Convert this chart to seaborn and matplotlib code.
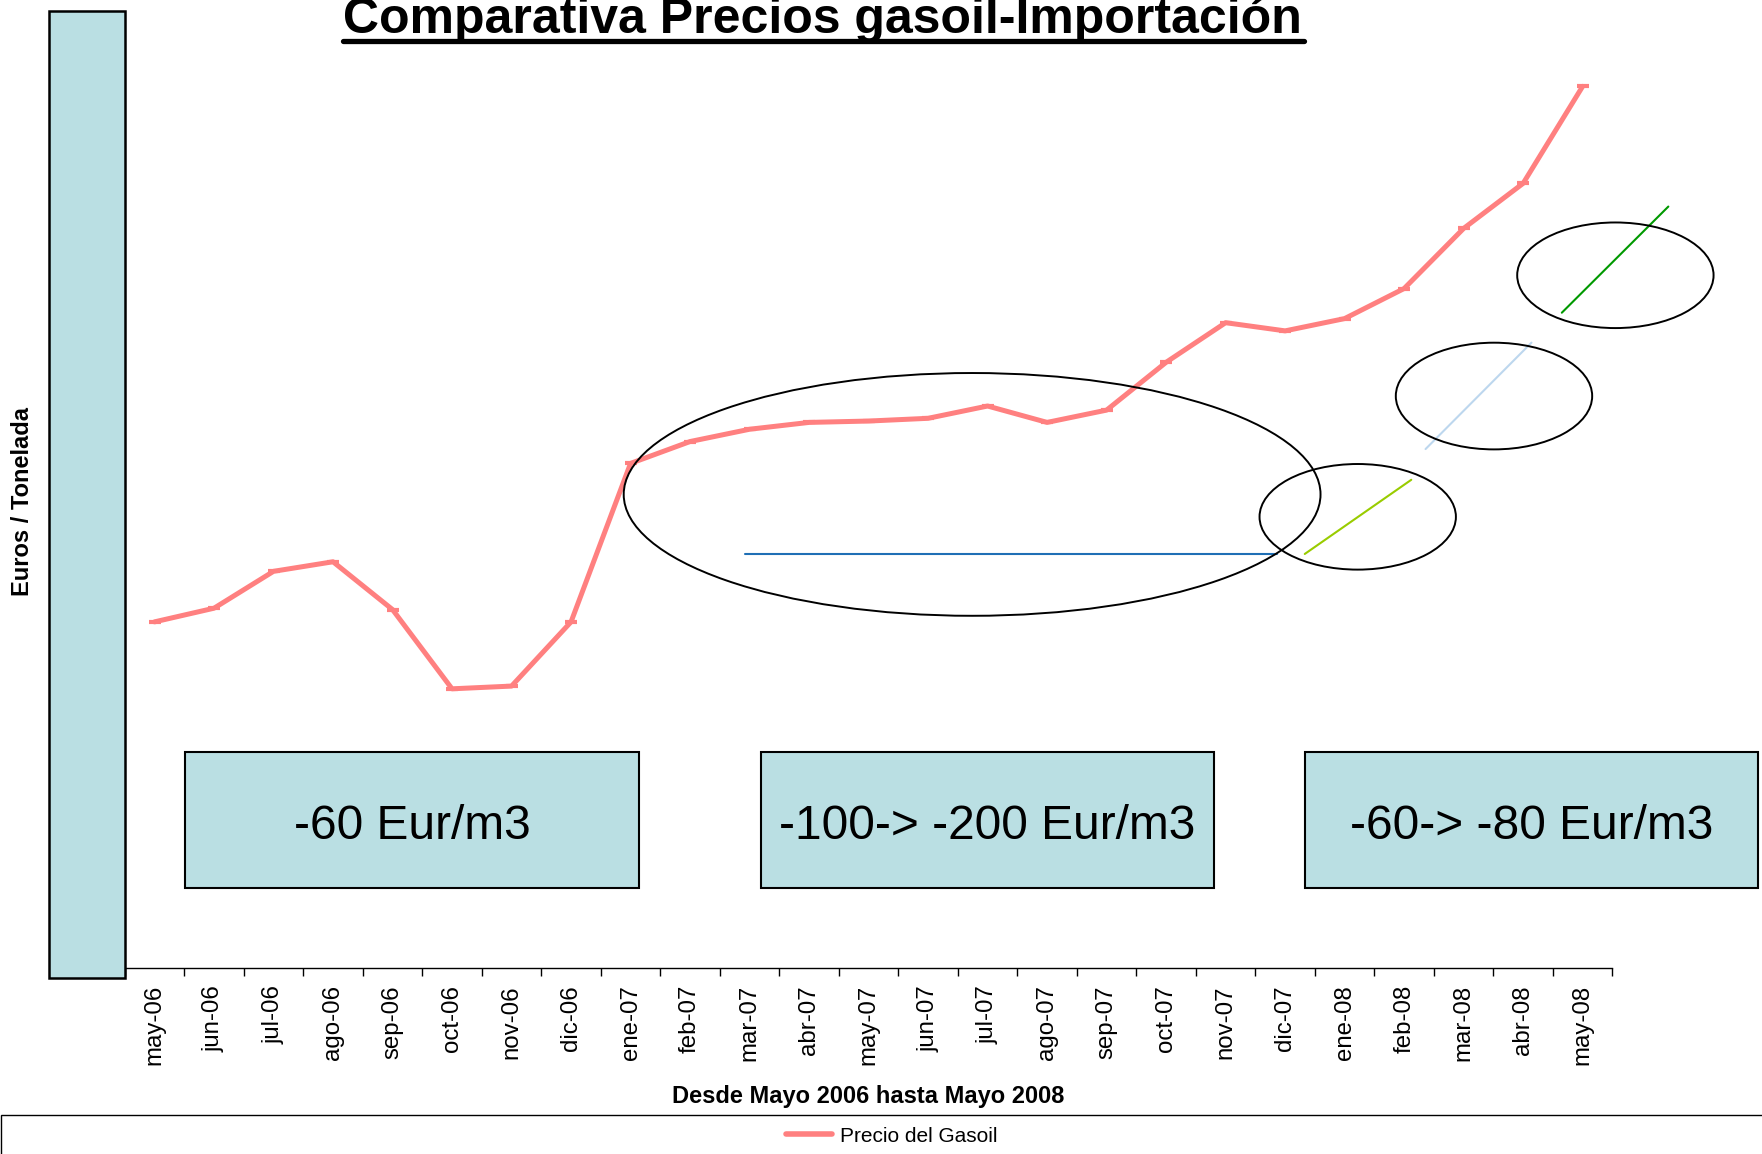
import matplotlib.pyplot as plt
import matplotlib.patches as mpatches
from matplotlib.lines import Line2D
import pandas as pd
import seaborn as sns

meses = ['may-06', 'jun-06', 'jul-06', 'ago-06', 'sep-06', 'oct-06', 'nov-06',
         'dic-06', 'ene-07', 'feb-07', 'mar-07', 'abr-07', 'may-07', 'jun-07',
         'jul-07', 'ago-07', 'sep-07', 'oct-07', 'nov-07', 'dic-07', 'ene-08',
         'feb-08', 'mar-08', 'abr-08', 'may-08']
precio = [453, 463, 490, 497, 462, 404, 406, 453, 569, 585, 594, 599, 600,
          602, 611, 599, 608, 643, 672, 666, 675, 697, 741, 774, 845]
cajas = ['-60 Eur/m3', '-100-> -200 Eur/m3', '-60-> -80 Eur/m3']

titulo = 'Comparativa Precios gasoil-Importación'
serie = 'Precio del Gasoil'

df = pd.DataFrame({'Mes': meses, 'Precio': precio})

sns.set_style('white')
plt.rcParams['font.family'] = ['Liberation Sans', 'DejaVu Sans']
plt.rcParams['text.color'] = 'black'
plt.rcParams['axes.labelcolor'] = 'black'
plt.rcParams['xtick.color'] = 'black'

teal = '#badfe3'
rosa = '#ff8080'

fig = plt.figure(figsize=(17.62, 11.54), dpi=100)
ax = fig.add_axes([0.0708, 0.1616, 0.8443, 0.8287])

sns.lineplot(data=df, x='Mes', y='Precio', ax=ax, color=rosa, lw=3.6,
             marker='_', ms=9, mew=3, mec=rosa, sort=False, legend=False)

ax.set_xlim(-0.5, 24.5)
ax.set_ylim(200, 900)
ax.set_yticks([])
ax.set_xlabel('')
ax.set_ylabel('')
for s in ['top', 'right', 'left']:
    ax.spines[s].set_visible(False)
ax.spines['bottom'].set_color('black')
ax.spines['bottom'].set_linewidth(1)

ax.set_xticks(range(len(meses)))
ax.set_xticklabels(meses)
ax.set_xticks([i - 0.5 for i in range(len(meses) + 1)], minor=True)
ax.tick_params(axis='x', which='major', length=0, pad=12.6, labelsize=17.3,
               labelrotation=90, labelcolor='black')
ax.tick_params(axis='x', which='minor', bottom=True, length=5.8, width=1,
               direction='out', color='black')

# elipses de comentario
elipses = [((13.74, 546.3), 11.71, 177.7),
           ((20.22, 529.9), 3.30, 77.3),
           ((22.51, 618.3), 3.30, 78.1),
           ((24.55, 706.7), 3.30, 77.3)]
for c, w, h in elipses:
    ax.add_patch(mpatches.Ellipse(c, w, h, fill=False, ec='black', lw=1.4,
                                  clip_on=False, zorder=4))

# rectas de tendencia
ax.plot([9.92, 18.87], [502.7, 502.7], color='#1f6fb5', lw=1.5, clip_on=False)
ax.plot([19.33, 21.12], [502.7, 557.0], color='#99cc00', lw=1.5, clip_on=False)
ax.plot([21.36, 23.14], [579.5, 657.4], color='#bdd7ee', lw=1.5, clip_on=False)
ax.plot([23.65, 25.44], [679.3, 757.0], color='#009900', lw=1.5, clip_on=False)

# cajas con el diferencial
xs = [(0.519, 8.15), (10.19, 17.80), (19.33, 26.95)]
for (x0, x1), t in zip(xs, cajas):
    ax.add_patch(mpatches.Rectangle((x0, 258.4), x1 - x0, 99.5, fc=teal,
                                    ec='black', lw=1.5, clip_on=False, zorder=5))
    ax.text((x0 + x1) / 2, 303.5, t, ha='center', va='center', fontsize=34.5,
            color='black', zorder=6, clip_on=False)

# barra a la izquierda
fig.patches.append(mpatches.Rectangle((0.028, 0.1529), 0.0427, 0.8374,
                                      transform=fig.transFigure, fc=teal,
                                      ec='black', lw=1.8))

# titulo subrayado
fig.text(0.467, 0.971, titulo, ha='center', va='baseline', fontsize=36,
         fontweight='bold', color='black')
fig.lines.append(Line2D([0.1945, 0.7398], [0.9641, 0.9641], lw=3.8,
                        color='black', transform=fig.transFigure))

fig.text(0.0128, 0.565, 'Euros / Tonelada', rotation=90, ha='center',
         va='center', fontsize=17, fontweight='bold', color='black')
fig.text(0.493, 0.044, 'Desde Mayo 2006 hasta Mayo 2008', ha='center',
         va='baseline', fontsize=17, fontweight='bold', color='black')

# leyenda
fig.patches.append(mpatches.Rectangle((0.0006, -0.01), 1.0, 0.0438,
                                      transform=fig.transFigure, fill=False,
                                      ec='black', lw=1))
fig.legend(handles=[Line2D([], [], color=rosa, lw=4)], labels=[serie],
           loc='center', bbox_to_anchor=(0.506, 0.0155), frameon=False,
           fontsize=15, handlelength=2.2, handletextpad=0.4)

fig.savefig('out.png', dpi=100)
